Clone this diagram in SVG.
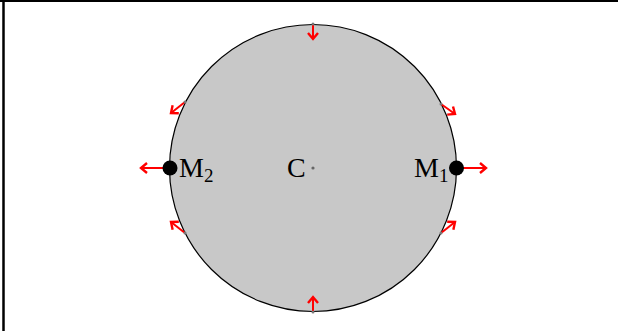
<svg xmlns="http://www.w3.org/2000/svg" width="618" height="331" viewBox="0 0 618 331">
<style>
.arr{stroke:#ff0000;stroke-width:2;fill:none;marker-end:url(#ah)}
.pt{fill:#777}
.lbl{font-family:"Liberation Serif","Times New Roman",serif;font-size:28px;fill:#000}
.sub{font-size:19px}
</style>
<defs>
<marker id="ah" markerUnits="userSpaceOnUse" markerWidth="14" markerHeight="14" refX="0" refY="0" viewBox="-8 -7 10 14" orient="auto" overflow="visible">
<path d="M-6,-5 L0,0 L-6,5" fill="none" stroke="#ff0000" stroke-width="2.4" stroke-linejoin="miter"/>
</marker>
</defs>
<rect width="618" height="331" fill="#fff"/>
<line x1="0" y1="1" x2="618" y2="1" stroke="#000" stroke-width="2"/>
<line x1="3.5" y1="0" x2="3.5" y2="331" stroke="#000" stroke-width="2.5"/>
<g id="disk">
<circle cx="313" cy="168" r="143.5" fill="#c8c8c8" stroke="#000" stroke-width="1.2"/>
</g>
<g id="connectors">
<line class="arr" x1="313" y1="24" x2="313" y2="39"/>
<line class="arr" x1="313" y1="312" x2="313" y2="297"/>
<line class="arr" x1="185" y1="102" x2="171" y2="113"/>
<line class="arr" x1="441" y1="104" x2="455" y2="114"/>
<line class="arr" x1="185" y1="233" x2="171" y2="222"/>
<line class="arr" x1="441" y1="233" x2="455" y2="222"/>
<line class="arr" x1="457" y1="168" x2="486" y2="168"/>
<line class="arr" x1="170" y1="168" x2="141" y2="168"/>
<circle class="pt" cx="313" cy="24" r="1.5"/>
<circle class="pt" cx="313" cy="312" r="1.5"/>
<circle class="pt" cx="185" cy="102" r="1.5"/>
<circle class="pt" cx="441" cy="104" r="1.5"/>
<circle class="pt" cx="185" cy="233" r="1.5"/>
<circle class="pt" cx="441" cy="233" r="1.5"/>
</g>
<g id="C">
<circle cx="313" cy="168" r="1.6" fill="#666"/>
<text class="lbl" x="287" y="177">C</text>
</g>
<g id="M1">
<circle cx="456.5" cy="168" r="7.5" fill="#000"/>
<text class="lbl" x="414" y="177">M<tspan class="sub" dy="5">1</tspan></text>
</g>
<g id="M2">
<circle cx="170" cy="168" r="7.5" fill="#000"/>
<text class="lbl" x="179" y="177">M<tspan class="sub" dy="5">2</tspan></text>
</g>
</svg>
